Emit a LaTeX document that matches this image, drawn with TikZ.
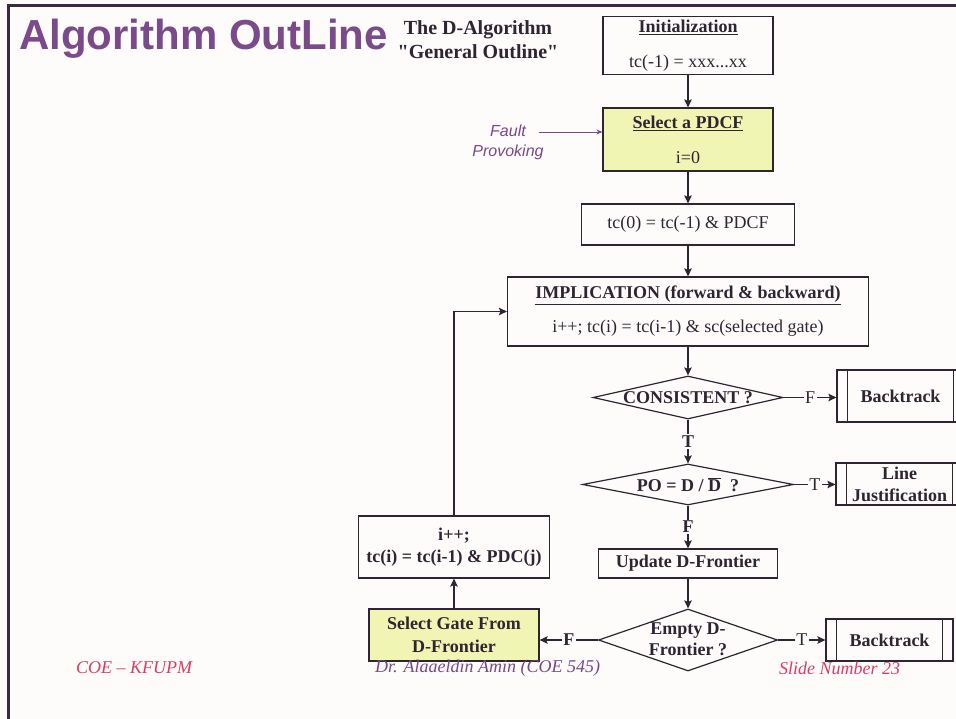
\documentclass[tikz,border=0pt]{standalone}
\usepackage{fontspec}
\setmainfont{Liberation Serif}[Ligatures=TeXOff]
\newfontfamily\arialfont{Liberation Sans}
\usetikzlibrary{shapes.geometric,arrows.meta}

\definecolor{ink}{RGB}{46,36,50}
\definecolor{paper}{RGB}{253,252,251}
\definecolor{padyellow}{RGB}{240,245,180}
\definecolor{titlepurple}{RGB}{122,74,138}
\definecolor{footpink}{RGB}{218,60,100}
\definecolor{footpurple}{RGB}{120,72,140}

\begin{document}
\begin{tikzpicture}[x=1pt,y=-1pt,
  every node/.style={text=ink},
  box/.style={draw=ink, line width=1.2pt, rectangle, inner sep=0pt, align=center,
    font=\fontsize{18}{20}\selectfont},
  padbox/.style={box, fill=padyellow},
  dia/.style={draw=ink, line width=1.2pt, diamond, inner sep=0pt},
  diatext/.style={align=center, inner sep=0pt, font=\bfseries\fontsize{18}{21}\selectfont},
  flow/.style={draw=ink, line width=1.3pt, -{Stealth[length=8pt,width=7.5pt,inset=1.5pt]}},
  branch/.style={fill=paper, inner sep=1.5pt, font=\fontsize{18}{20}\selectfont},
  boldbranch/.style={branch, font=\bfseries\fontsize{18}{20}\selectfont},
  foot/.style={font=\itshape\fontsize{18}{20}\selectfont}
]
% canvas and frame
\useasboundingbox (0,0) rectangle (956,719);
\clip (0,0) rectangle (956,719);
\fill[paper] (0,0) rectangle (956,719);
\draw[ink!85!titlepurple, line width=3pt] (8.5,719) -- (8.5,5.5) -- (960,5.5);

% headings
\node[anchor=west, text=titlepurple, inner sep=0pt,
  font=\arialfont\bfseries\fontsize{42}{46}\selectfont] (title) at (19,39) {Algorithm OutLine};
\node[align=center, inner sep=0pt, font=\bfseries\fontsize{20}{24}\selectfont] (subtitle) at (478,40)
  {The D-Algorithm\\"General Outline"};

% main column
\node[box, minimum width=170pt, minimum height=58pt] (init) at (688,45.5)
  {\underline{\textbf{Initialization}}\\[15pt]tc(-1) = xxx...xx};
\node[padbox, minimum width=170pt, minimum height=63pt] (pdcf) at (688,139.5)
  {\underline{\textbf{Select a PDCF}}\\[15pt]i=0};
\node[box, minimum width=213pt, minimum height=41pt] (tc0) at (688,224.5)
  {tc(0) = tc(-1) \& PDCF};
\node[box, minimum width=361pt, minimum height=69pt] (impl) at (688,311.5)
  {\underline{\textbf{IMPLICATION (forward \& backward)}}\\[14pt]i++; tc(i) = tc(i-1) \& sc(selected gate)};

\node[dia, minimum width=190pt, minimum height=43pt] (cons) at (688,397.5) {};
\node[diatext] (cons-t) at (cons.center) {CONSISTENT ?};
\node[dia, minimum width=211pt, minimum height=41pt] (po) at (688,484.5) {};
\node[diatext] (po-t) at (po.center) {PO = D / $\overline{\mbox{\bfseries D}}$~~?};
\node[box, minimum width=179pt, minimum height=29pt, font=\bfseries\fontsize{18}{20}\selectfont] (upd) at (688,563.5)
  {Update D-Frontier};
\node[dia, minimum width=179pt, minimum height=62pt] (empty) at (688,640) {};
\node[diatext] (empty-t) at ([yshift=0.5pt]empty.center) {Empty D-\\Frontier ?};

% side boxes (predefined process)
\node[box, minimum width=127pt, minimum height=52pt, font=\bfseries\fontsize{18}{20}\selectfont] (bt1) at (900.5,396) {Backtrack};
\node[box, minimum width=127pt, minimum height=42pt, font=\bfseries\fontsize{18}{22}\selectfont] (lj) at (899.5,484) {Line\\Justification};
\node[box, minimum width=127pt, minimum height=42pt, font=\bfseries\fontsize{18}{20}\selectfont] (bt2) at (889.5,640) {Backtrack};
\foreach \n in {bt1,lj,bt2}{
  \draw[ink, line width=1.2pt] ([xshift=11pt]\n.north west) -- ([xshift=11pt]\n.south west);
  \draw[ink, line width=1.2pt] ([xshift=-11pt]\n.north east) -- ([xshift=-11pt]\n.south east);
}

% left branch
\node[padbox, minimum width=170pt, minimum height=52pt, font=\bfseries\fontsize{18}{23}\selectfont] (selgate) at (454,635)
  {Select Gate From\\D-Frontier};
\node[box, minimum width=191pt, minimum height=62pt, font=\bfseries\fontsize{18}{22}\selectfont] (inc) at (454,547)
  {i++;\\tc(i) = tc(i-1) \& PDC(j)};
\coordinate (loopcorner) at (454,311.5);

% fault provoking note
\node[align=center, inner sep=0pt, text=footpurple, font=\arialfont\itshape\fontsize{16}{20}\selectfont] (fault) at (508,142)
  {Fault\\Provoking};
\coordinate (faultstart) at (539,132);
\draw[footpurple, line width=0.9pt, -{Stealth[length=6pt,width=5pt]}] (faultstart) -- (faultstart -| pdcf.west);

% connectors
\draw[flow] (init) -- (pdcf);
\draw[flow] (pdcf) -- (tc0);
\draw[flow] (tc0) -- (impl);
\draw[flow] (impl) -- (cons);
\draw[flow] (cons.south) -- node[boldbranch] (cons-T) {T} (po.north);
\draw[flow] (cons.east) -- node[branch] (cons-F) {F} (bt1.west |- cons.east);
\draw[flow] (po.south) -- node[boldbranch] (po-F) {F} (upd.north);
\draw[flow] (po.east) -- node[branch] (po-T) {T} (lj.west |- po.east);
\draw[flow] (upd) -- (empty);
\draw[flow] (empty.east) -- node[branch] (empty-T) {T} (bt2.west |- empty.east);
\draw[flow] (empty.west) -- node[boldbranch] (empty-F) {F} (selgate.east |- empty.west);
\draw[flow] (selgate) -- (inc);
\draw[flow] (inc.north) -- (loopcorner) -- (impl.west);

% footer
\node[foot, text=footpink] (foot-l) at (134,668) {COE – KFUPM};
\node[foot, text=footpurple] (foot-m) at (487.5,668) {Dr. Alaaeldin Amin (COE 545)};
\node[foot, text=footpink] (foot-r) at (839.5,668) {Slide Number 23};
\end{tikzpicture}
\end{document}
